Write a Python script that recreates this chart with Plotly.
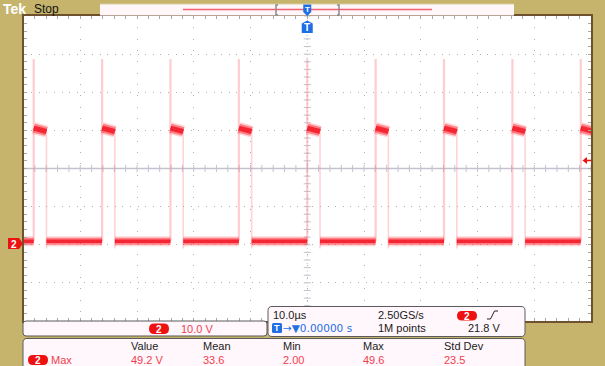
import plotly.graph_objects as go

rise_times_us = [-48.2, -36.15, -24.1, -12.05, 0.0, 12.05, 24.1, 36.15, 48.2]
pulse_width_us = 2.25
low_level_v = 0.6
high_start_v = 30.3
high_end_v = 29.4
spike_peak_v = 48.4
undershoot_v = -1.3
trigger_level_v = 21.8

time_per_div_us = 10.0
volts_per_div = 10.0
ground_offset_div = -1.97

timebase_text = "10.0µs"
sample_rate_text = "2.50GS/s"
record_text = "1M points"
trigger_pos_text = "→▼0.00000 s"
trigger_text = "21.8 V"
scale_text = "10.0 V"
meas_headers = ["Value", "Mean", "Min", "Max", "Std Dev"]
meas_values = ["49.2 V", "33.6", "2.00", "49.6", "23.5"]
meas_label = "Max"

# ---------------- layout constants ----------------
W, H = 605, 366
PL, PR, PT, PB = 23.5, 591.0, 16.0, 321.0
OLIVE = "#C6B46D"
BROWN = "#6E5230"
RED_TXT = "#F0404E"
BLUE = "#1E6FE6"
BOX_FILL = "#FFF7FB"

t0, t1 = -5 * time_per_div_us, 5 * time_per_div_us
center_v = -ground_offset_div * volts_per_div
v0, v1 = center_v - 4 * volts_per_div, center_v + 4 * volts_per_div


def px(x):
    return x / W


def py(y):
    return 1 - y / H


def xpix_of_t(t):
    return PL + (t - t0) / (t1 - t0) * (PR - PL)


def ypix_of_v(v):
    return PB - (v - v0) / (v1 - v0) * (PB - PT)


# ---------------- waveform built from data ----------------
fall_times = [r + pulse_width_us for r in rise_times_us]
low_x, low_y, high_x, high_y, rise_x, rise_y, fall_x, fall_y = [], [], [], [], [], [], [], []
prev = t0
for r, f in zip(rise_times_us, fall_times):
    low_x += [prev, r, None]
    low_y += [low_level_v, low_level_v, None]
    high_x += [r, f, None]
    high_y += [high_start_v, high_end_v, None]
    rise_x += [r, r, None]
    rise_y += [low_level_v, spike_peak_v, None]
    fall_x += [f, f, None]
    fall_y += [high_end_v, undershoot_v, None]
    prev = f
if prev < t1:
    low_x += [prev, t1]
    low_y += [low_level_v, low_level_v]

fig = go.Figure()

GRAT = "#C2C2D0"
# center crosshair lines
fig.add_trace(go.Scatter(x=[t0, t1], y=[center_v, center_v], mode="lines",
                         line=dict(color=GRAT, width=1.3), hoverinfo="skip", showlegend=False))
fig.add_trace(go.Scatter(x=[0, 0], y=[v0, v1], mode="lines",
                         line=dict(color="#BDBDC8", width=1, dash="1px,2.8px"),
                         hoverinfo="skip", showlegend=False))
# center-line tick marks (graticule decoration)
tick_x = [t0 + i * time_per_div_us / 5 for i in range(51)]
tick_v = [v0 + i * volts_per_div / 5 for i in range(41)]
fig.add_trace(go.Scatter(x=tick_x, y=[center_v] * len(tick_x), mode="markers",
                         marker=dict(symbol="line-ns-open", size=5, color=GRAT,
                                     line=dict(color=GRAT, width=1)),
                         hoverinfo="skip", showlegend=False))
fig.add_trace(go.Scatter(x=[0] * len(tick_v), y=tick_v, mode="markers",
                         marker=dict(symbol="line-ew-open", size=5, color=GRAT,
                                     line=dict(color=GRAT, width=1)),
                         hoverinfo="skip", showlegend=False))

# edges
fig.add_trace(go.Scatter(x=rise_x, y=rise_y, mode="lines",
                         line=dict(color="rgba(255,130,140,0.40)", width=2.2),
                         hoverinfo="skip", showlegend=False))
fig.add_trace(go.Scatter(x=fall_x, y=fall_y, mode="lines",
                         line=dict(color="rgba(255,130,140,0.35)", width=1.6),
                         hoverinfo="skip", showlegend=False))
# bands (noise envelope + core)
for xs, ys, widths in [(low_x, low_y, (10, 7, 3.5)), (high_x, high_y, (12, 9, 5))]:
    fig.add_trace(go.Scatter(x=xs, y=ys, mode="lines",
                             line=dict(color="rgba(255,90,100,0.25)", width=widths[0]),
                             hoverinfo="skip", showlegend=False))
    fig.add_trace(go.Scatter(x=xs, y=ys, mode="lines",
                             line=dict(color="rgba(255,40,50,0.5)", width=widths[1]),
                             hoverinfo="skip", showlegend=False))
    fig.add_trace(go.Scatter(x=xs, y=ys, mode="lines",
                             line=dict(color="rgba(240,0,15,0.7)", width=widths[2]),
                             hoverinfo="skip", showlegend=False))

shapes = []
annotations = []


def rrect_path(x0, y0, x1, y1, r):
    P = lambda x, y: f"{px(x):.5f},{py(y):.5f}"
    return (f"M {P(x0 + r, y0)} L {P(x1 - r, y0)} Q {P(x1, y0)} {P(x1, y0 + r)} "
            f"L {P(x1, y1 - r)} Q {P(x1, y1)} {P(x1 - r, y1)} L {P(x0 + r, y1)} "
            f"Q {P(x0, y1)} {P(x0, y1 - r)} L {P(x0, y0 + r)} Q {P(x0, y0)} {P(x0 + r, y0)} Z")


def poly_path(pts, close=True):
    s = "M " + " L ".join(f"{px(x):.5f},{py(y):.5f}" for x, y in pts)
    return s + (" Z" if close else "")


def add_path(path, fill=None, line=None, width=1):
    shapes.append(dict(type="path", xref="paper", yref="paper", path=path,
                       fillcolor=fill if fill else "rgba(0,0,0,0)",
                       line=dict(color=line if line else "rgba(0,0,0,0)", width=width if line else 0),
                       layer="above"))


def text(x, y, s, color="#1A1A1A", size=11, anchor="left", bold=False, family="Liberation Sans"):
    if bold:
        s = f"<b>{s}</b>"
    annotations.append(dict(x=px(x), y=py(y), xref="paper", yref="paper", text=s,
                            showarrow=False, xanchor=anchor, yanchor="middle",
                            borderpad=0, font=dict(color=color, size=size, family=family)))


def badge(x0, y0, x1, y1, label):
    add_path(rrect_path(x0, y0, x1, y1, (y1 - y0) / 2), fill="#EE1111")
    text((x0 + x1) / 2, (y0 + y1) / 2 + 0.5, label, color="white", size=10, anchor="center", bold=True)


# top record bar
add_path(poly_path([(100, 4), (514, 4), (514, 15.5), (100, 15.5)]), fill="#FFF6FA")
shapes.append(dict(type="line", xref="paper", yref="paper", x0=px(100), x1=px(514), y0=py(4), y1=py(4),
                   line=dict(color="#D8CFA0", width=1)))
shapes.append(dict(type="line", xref="paper", yref="paper", x0=px(183), x1=px(432), y0=py(9.5), y1=py(9.5),
                   line=dict(color="#F06070", width=1.5)))
add_path(poly_path([(278, 5), (276, 5), (276, 15), (278, 15)], close=False), line="#8A8A8A", width=1.5)
add_path(poly_path([(337, 5), (339, 5), (339, 15), (337, 15)], close=False), line="#8A8A8A", width=1.5)

# trigger position markers (at t = 0)
xc = xpix_of_t(0)
add_path(poly_path([(xc - 4, 4.5), (xc + 4, 4.5), (xc + 4, 12), (xc, 16), (xc - 4, 12)]), fill=BLUE)
text(xc, 9, "T", color="white", size=8, anchor="center", bold=True)
add_path(poly_path([(xc, 20.5), (xc + 5.5, 23.5), (xc + 5.5, 33), (xc - 5.5, 33), (xc - 5.5, 23.5)]), fill=BLUE)
text(xc, 28, "T", color="white", size=10, anchor="center", bold=True)

# channel 2 ground marker (at 0 V)
yg = ypix_of_v(0)
add_path(poly_path([(8, yg - 5.5), (19, yg - 5.5), (23, yg), (19, yg + 5.5), (8, yg + 5.5)]), fill="#EE1111")
text(14, yg + 0.5, "2", color="white", size=10, anchor="center", bold=True)

# trigger level arrow (right edge)
yt = ypix_of_v(trigger_level_v)
add_path(poly_path([(582.5, yt), (587, yt - 3.5), (587, yt + 3.5)]), fill="#EE1111")
shapes.append(dict(type="line", xref="paper", yref="paper", x0=px(586), x1=px(591), y0=py(yt), y1=py(yt),
                   line=dict(color="#EE1111", width=1.5)))

# readout boxes
add_path(rrect_path(23, 321, 267, 336, 3), fill=BOX_FILL, line="#5A5A5A", width=1)
add_path(rrect_path(268, 306.5, 525, 336.5, 4), fill=BOX_FILL, line="#5A5A5A", width=1)
add_path(rrect_path(23, 338.5, 525, 372, 4), fill=BOX_FILL, line="#5A5A5A", width=1)

# top-left labels
text(1.5, 9, "Tek", color="white", size=14, bold=True)
text(33, 9.5, "Stop", color="#111111", size=12)

# scale box
badge(149, 323.5, 169, 334, "2")
text(180, 329, scale_text, color=RED_TXT)

# horizontal / trigger box
text(272, 315, timebase_text)
text(377, 315, sample_rate_text)
badge(457, 311, 477, 320.5, "2")
add_path(poly_path([(487, 319), (490.5, 319), (494.5, 311), (498, 311)], close=False), line="#222222", width=1)
add_path(rrect_path(272, 323, 282, 333, 1.5), fill=BLUE)
text(277, 328.3, "T", color="white", size=9, anchor="center", bold=True)
text(282, 328, trigger_pos_text, color=BLUE, family="DejaVu Sans", size=10.5)
text(377, 328, record_text)
text(467, 328, trigger_text)

# measurement box
col_x = [130, 202, 282, 362, 443]
for cx, h, v in zip(col_x, meas_headers, meas_values):
    text(cx, 346, h)
    text(cx, 360, v, color=RED_TXT)
badge(28, 355, 48, 365, "2")
text(50, 360, meas_label, color=RED_TXT)

fig.update_layout(
    width=W, height=H, autosize=False,
    margin=dict(l=0, r=0, t=0, b=0, pad=0),
    paper_bgcolor=OLIVE, plot_bgcolor="white",
    showlegend=False,
    shapes=shapes, annotations=annotations,
    xaxis=dict(domain=[PL / W, PR / W], range=[t0, t1], dtick=time_per_div_us, tick0=0,
               showgrid=True, gridcolor="#B0B0B0", gridwidth=1, griddash="1px,10.34px",
               zeroline=False, showticklabels=False,
               ticks="inside", ticklen=3, tickcolor="#A8A8A8",
               minor=dict(ticks="inside", dtick=time_per_div_us / 5, tick0=0, ticklen=3,
                          tickcolor="#A8A8A8", showgrid=False),
               showline=True, linecolor=BROWN, linewidth=2, mirror="ticks", fixedrange=True),
    yaxis=dict(domain=[1 - PB / H, 1 - PT / H], range=[v0, v1], dtick=volts_per_div, tick0=center_v,
               showgrid=True, gridcolor="#B0B0B0", gridwidth=1, griddash="1px,6.6px",
               zeroline=False, showticklabels=False,
               ticks="inside", ticklen=3, tickcolor="#A8A8A8",
               minor=dict(ticks="inside", dtick=volts_per_div / 5, tick0=center_v, ticklen=3,
                          tickcolor="#A8A8A8", showgrid=False),
               showline=True, linecolor=BROWN, linewidth=2, mirror="ticks", fixedrange=True),
)

fig.write_html("out.html", config={"displayModeBar": False})
